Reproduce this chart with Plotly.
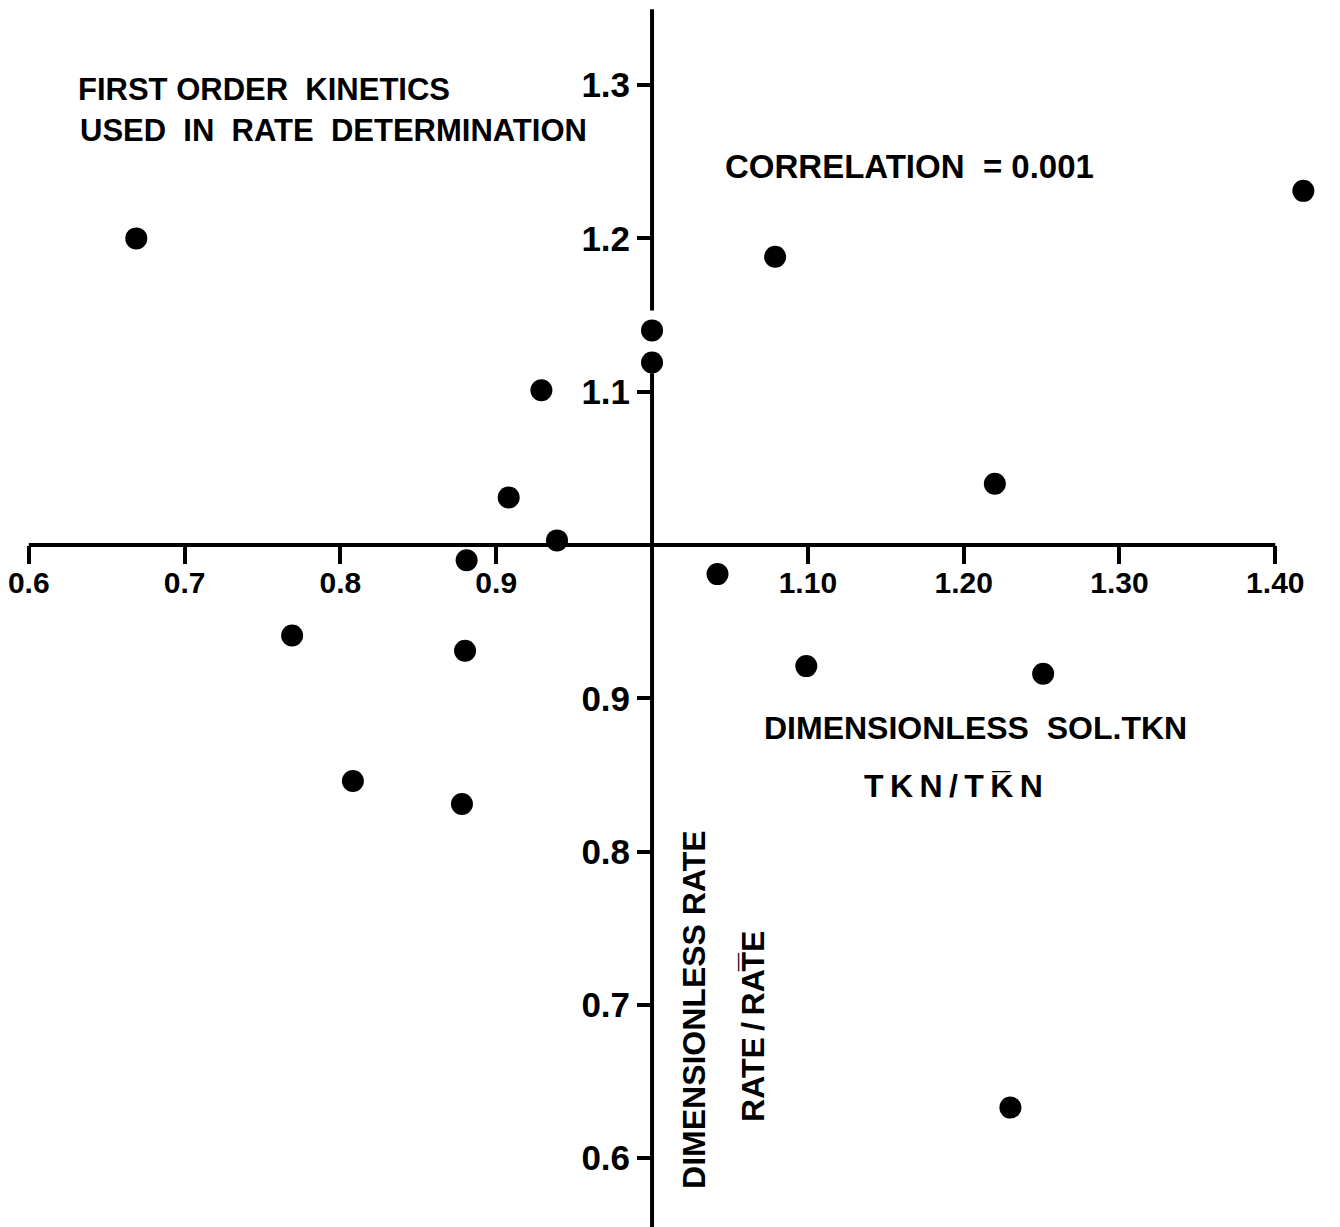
import plotly.graph_objects as go

# ---- data ----
tkn_ratio = [0.669, 1.079, 1.418, 1.000, 1.000, 0.929, 0.908, 0.939, 0.881,
             1.042, 1.220, 0.769, 0.880, 1.099, 1.251, 0.808, 0.878, 1.230]
rate_ratio = [1.200, 1.188, 1.231, 1.140, 1.119, 1.101, 1.031, 1.003, 0.990,
              0.981, 1.040, 0.941, 0.931, 0.921, 0.916, 0.846, 0.831, 0.633]

x_tickvals = [0.6, 0.7, 0.8, 0.9, 1.1, 1.2, 1.3, 1.4]
x_ticktext = ["0.6", "0.7", "0.8", "0.9", "1.10", "1.20", "1.30", "1.40"]
y_tickvals = [0.6, 0.7, 0.8, 0.9, 1.1, 1.2, 1.3]
y_ticktext = ["0.6", "0.7", "0.8", "0.9", "1.1", "1.2", "1.3"]

W, H = 1340, 1227
OFF = 8  # page body margin
X_RANGE = [0.58795, 1.44665]
Y_RANGE = [0.54990, 1.35029]
ORIGIN = (1.0, 1.0)

FONT = "Liberation Sans, Arial, Helvetica, sans-serif"

def fx(v):
    return (v - X_RANGE[0]) / (X_RANGE[1] - X_RANGE[0])

def fy(v):
    return (v - Y_RANGE[0]) / (Y_RANGE[1] - Y_RANGE[0])

fig = go.Figure()
fig.add_trace(go.Scatter(
    x=tkn_ratio, y=rate_ratio, mode="markers",
    marker=dict(size=22, color="black", line=dict(width=0)),
    hoverinfo="skip", showlegend=False,
))

# axis lines (crossing at the origin 1.0, 1.0)
fig.add_shape(type="line", xref="x", yref="y",
              x0=x_tickvals[0], x1=x_tickvals[-1], y0=ORIGIN[1], y1=ORIGIN[1],
              line=dict(color="black", width=4))
on_axis = [y for x, y in zip(tkn_ratio, rate_ratio) if x == ORIGIN[0]]
gap_top = max(on_axis) + 0.013
gap_bot = min(on_axis) - 0.007
fig.add_shape(type="line", xref="x", yref="y",
              x0=ORIGIN[0], x1=ORIGIN[0], y0=gap_top, y1=1.3495,
              line=dict(color="black", width=4))
fig.add_shape(type="line", xref="x", yref="y",
              x0=ORIGIN[0], x1=ORIGIN[0], y0=Y_RANGE[0], y1=gap_bot,
              line=dict(color="black", width=4))

def ann(text, px, py, size=31, xanchor="left", angle=0):
    fig.add_annotation(
        text=text, x=(px - OFF) / W, y=1 - (py - OFF) / H,
        xref="paper", yref="paper",
        xanchor=xanchor, yanchor="middle", showarrow=False, textangle=angle,
        font=dict(family=FONT, size=size, color="black", weight="bold"),
    )

TS = "\u2009"  # thin space
ann("FIRST ORDER  KINETICS", 74, 90, size=31)
ann("USED  IN  RATE  DETERMINATION", 76, 130, size=31)
ann("CORRELATION  = 0.001", 722, 167, size=33)
ann("DIMENSIONLESS  SOL.TKN", 761, 728, size=32)
ann(TS.join("TKN") + TS + "/" + TS + "T" + TS + "K\u0305" + TS + "N",
    953, 786, size=32, xanchor="center")
ann("DIMENSIONLESS RATE", 693, 1009, size=32, xanchor="center", angle=-90)
ann("RATE" + TS + "/" + TS + "RAT\u0305E", 752, 1026, size=32,
    xanchor="center", angle=-90)

fig.update_layout(
    width=W, height=H,
    margin=dict(l=0, r=0, t=0, b=0),
    paper_bgcolor="white", plot_bgcolor="white",
    showlegend=False,
    xaxis=dict(
        range=X_RANGE, anchor="free", position=fy(ORIGIN[1]), side="bottom",
        showline=False, showgrid=False, zeroline=False,
        ticks="outside", ticklen=18, tickwidth=4, tickcolor="black",
        tickvals=x_tickvals, ticktext=x_ticktext, ticklabelstandoff=-7,
        ticklabeloverflow="allow",
        tickfont=dict(family=FONT, size=30, color="black", weight="bold"),
    ),
    yaxis=dict(
        range=Y_RANGE, anchor="free", position=fx(ORIGIN[0]), side="left",
        showline=False, showgrid=False, zeroline=False,
        ticks="outside", ticklen=15, tickwidth=4, tickcolor="black",
        tickvals=y_tickvals, ticktext=y_ticktext, ticklabeloverflow="allow",
        tickfont=dict(family=FONT, size=35, color="black", weight="bold"),
    ),
)

fig.write_html("out.html")
